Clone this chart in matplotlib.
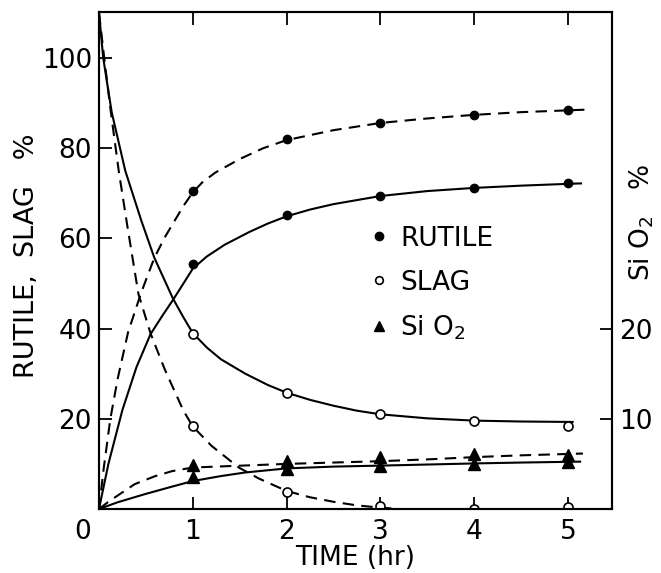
import matplotlib
matplotlib.use('Agg')
import matplotlib.pyplot as plt
import matplotlib.transforms as mtransforms
from matplotlib.lines import Line2D

# measured points (TIME hr)
t_pts = [1, 2, 3, 4, 5]
rutile_dash_pts = [70.6, 82.0, 85.6, 87.4, 88.4]
rutile_solid_pts = [54.4, 65.3, 69.4, 71.2, 72.2]
slag_solid_pts = [38.7, 25.7, 21.0, 19.6, 18.4]
slag_dash_pts = [18.3, 3.7, 0.6, 0.1, 0.5]
# SiO2 on the right axis (%)
sio2_dash_pts = [4.85, 5.35, 5.8, 6.15, 6.0]
sio2_solid_pts = [3.55, 4.4, 4.75, 5.0, 5.2]

# fitted curves
rutile_dash_t = [0, 0.05, 0.12, 0.2, 0.31, 0.45, 0.59, 0.7, 0.8, 0.9, 1.0, 1.1, 1.24, 1.5, 1.75,
                 2.0, 2.5, 3.0, 3.5, 4.0, 4.5, 5.0, 5.25]
rutile_dash_y = [0, 9, 19.9, 29, 39.2, 48, 55.7, 60.2, 63.7, 67.2, 70.2, 72.4, 74.6, 77.6, 80.0,
                 81.8, 84.0, 85.6, 86.6, 87.4, 88.0, 88.4, 88.6]

rutile_solid_t = [0, 0.1, 0.25, 0.4, 0.55, 0.68, 0.79, 0.9, 1.0, 1.15, 1.34, 1.6, 1.8, 2.0, 2.25,
                  2.5, 3.0, 3.5, 4.0, 4.5, 5.0, 5.14]
rutile_solid_y = [0, 10, 22, 31.5, 38.8, 43.0, 46.4, 50.0, 53.3, 56.0, 58.6, 61.4, 63.3, 64.9, 66.4,
                  67.6, 69.4, 70.5, 71.2, 71.7, 72.1, 72.2]

slag_solid_t = [0, 0.045, 0.135, 0.28, 0.45, 0.59, 0.79, 0.9, 1.0, 1.15, 1.3, 1.56, 1.8, 2.0, 2.25,
                2.5, 2.75, 3.0, 3.5, 4.0, 4.5, 5.05]
slag_solid_y = [110, 100, 88, 75, 64, 55.7, 46.6, 42.5, 39.0, 35.8, 33.2, 30.0, 27.5, 25.8, 24.2,
                22.9, 21.8, 21.0, 20.1, 19.6, 19.4, 19.3]

slag_dash_t = [0, 0.05, 0.12, 0.21, 0.3, 0.42, 0.55, 0.7, 0.9, 1.0, 1.2, 1.49, 1.7, 2.0, 2.25,
               2.5, 2.75, 3.0, 3.2]
slag_dash_y = [110, 101, 89, 75, 63, 47.7, 38.9, 31, 21.8, 18.3, 14, 9.2, 6.8, 4.0, 2.6,
               1.6, 0.8, 0.3, 0]

sio2_dash_t = [0, 0.1, 0.2, 0.38, 0.6, 0.78, 1.0, 1.5, 2.0, 2.5, 3.0, 3.5, 4.0, 4.5, 5.16]
sio2_dash_y = [0, 0.8, 1.5, 2.75, 3.65, 4.2, 4.6, 4.8, 5.0, 5.15, 5.3, 5.5, 5.75, 5.95, 6.15]

sio2_solid_t = [0, 0.2, 0.49, 0.75, 1.0, 1.3, 1.56, 2.0, 2.5, 2.96, 3.5, 4.0, 4.5, 5.13]
sio2_solid_y = [0, 0.75, 1.65, 2.4, 3.1, 3.65, 4.05, 4.5, 4.7, 4.8, 4.93, 5.05, 5.15, 5.25]

plt.rcParams['font.family'] = 'DejaVu Sans'
plt.rcParams['font.size'] = 19

fig = plt.figure(figsize=(6.61, 5.73), dpi=100)
ax = fig.add_axes([0.1498, 0.1117, 0.7761, 0.8673])
ax2 = ax.twinx()

lw = 1.5
dash = (5.5, 3.5)

ax.plot(rutile_dash_t, rutile_dash_y, color='black', lw=lw, dashes=dash)
ax.plot(rutile_solid_t, rutile_solid_y, color='black', lw=lw)
ax.plot(slag_solid_t, slag_solid_y, color='black', lw=lw)
ax.plot(slag_dash_t, slag_dash_y, color='black', lw=lw, dashes=dash)

ax.plot(t_pts, rutile_dash_pts, 'o', color='black', ms=6, ls='none')
ax.plot(t_pts, rutile_solid_pts, 'o', color='black', ms=6, ls='none')
ax.plot(t_pts, slag_solid_pts, 'o', mfc='white', mec='black', mew=1.2, ms=6.5, ls='none', zorder=5)
ax.plot(t_pts, slag_dash_pts, 'o', mfc='white', mec='black', mew=1.2, ms=6.5, ls='none', zorder=5)

ax2.plot(sio2_dash_t, sio2_dash_y, color='black', lw=lw, dashes=dash)
ax2.plot(sio2_solid_t, sio2_solid_y, color='black', lw=lw)
ax2.plot(t_pts, sio2_dash_pts, '^', color='black', ms=8, ls='none')
ax2.plot(t_pts, sio2_solid_pts, '^', color='black', ms=8, ls='none')

ax.set_xlim(0, 5.47)
ax.set_ylim(0, 110.2)
ax2.set_ylim(0, 55.1)

ax.set_xticks([0, 1, 2, 3, 4, 5])
ax.set_yticks([20, 40, 60, 80, 100])
ax2.set_yticks([10, 20])

ax.tick_params(direction='in', length=9, width=1.3, top=True, pad=5, labelsize=19)
ax.tick_params(axis='x', pad=7)
ax2.tick_params(direction='in', length=9, width=1.3, pad=5, labelsize=19)

# shift the "0" label a bit to the left, like the original
lab0 = ax.get_xticklabels()[0]
lab0.set_transform(lab0.get_transform() + mtransforms.ScaledTranslation(-12 / 72, 0, fig.dpi_scale_trans))

for a in (ax, ax2):
    for s in a.spines.values():
        s.set_linewidth(1.5)

ax.set_xlabel('TIME (hr)', fontsize=19, labelpad=0)
ax.set_ylabel('RUTILE,  SLAG   %', fontsize=19.5)
ax.yaxis.set_label_coords(-0.115, 0.51)
ax2.set_ylabel('Si O$_2$   %', fontsize=19)
ax2.yaxis.set_label_coords(1.03, 0.577)

handles = [
    Line2D([], [], marker='o', color='black', ls='none', ms=6),
    Line2D([], [], marker='o', mfc='white', mec='black', mew=1.2, ls='none', ms=5.5),
    Line2D([], [], marker='^', color='black', ls='none', ms=7),
]
ax2.legend(handles, ['RUTILE', 'SLAG', 'Si O$_2$'], loc='upper left',
           bbox_to_anchor=(0.525, 0.57), frameon=False, fontsize=19,
           handlelength=0.8, handletextpad=0.4, labelspacing=0.68,
           borderpad=0, borderaxespad=0)

fig.savefig('out.png', dpi=100)
